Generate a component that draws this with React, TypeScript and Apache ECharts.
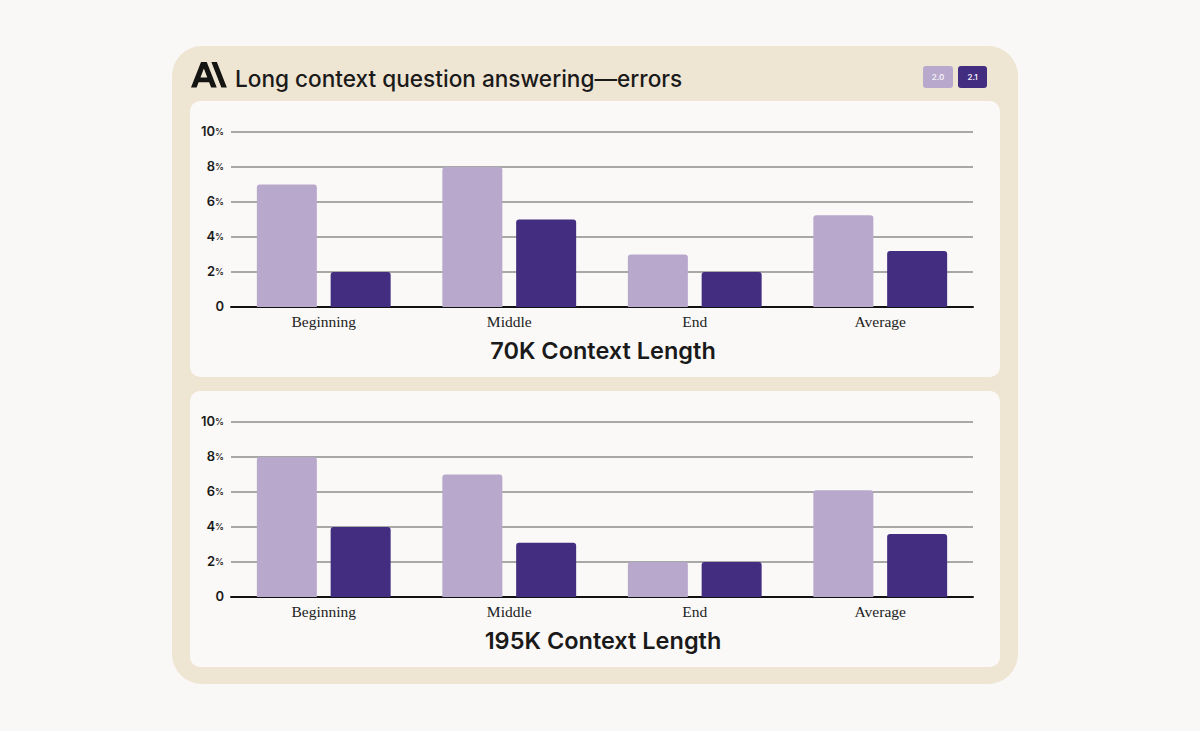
import React, { useEffect, useRef } from "react";
import * as echarts from "echarts";

const categories = ["Beginning", "Middle", "End", "Average"];
const seriesNames = ["2.0", "2.1"];
const errors70k_v20 = [7, 8, 3, 5.25];
const errors70k_v21 = [2, 5, 2, 3.2];
const errors195k_v20 = [8, 7, 2, 6.1];
const errors195k_v21 = [4, 3.1, 2, 3.6];
const yTicks = [0, 2, 4, 6, 8, 10];
const panelTitles = ["70K Context Length", "195K Context Length"];
const mainTitle = "Long context question answering\u2014errors";

const LIGHT = "#b8a8cc";
const DARK = "#422d80";
const LOGO_D =
  "M32.73 0h-6.945L38.45 32h6.945L32.73 0ZM12.665 0 0 32h7.082l2.59-6.72h13.25l2.59 6.72h7.082L19.929 0h-7.264Zm-.702 19.337 4.334-11.246 4.334 11.246h-8.668Z";

let registered = false;

export default function App() {
  const ref = useRef<HTMLDivElement>(null);
  useEffect(() => {
    if (!ref.current) return;
    if (!registered) {
      echarts.graphic.registerShape("logo", echarts.graphic.extendPath(LOGO_D, {}));
      registered = true;
    }
    const chart = echarts.init(ref.current, null, { renderer: "svg" });
    const grids = [
      { left: 231, right: 227, top: 132, height: 175 },
      { left: 231, right: 227, top: 422, height: 175 },
    ];
    const yAxis = grids.map((_, i) => ({
      type: "value",
      gridIndex: i,
      min: yTicks[0],
      max: yTicks[yTicks.length - 1],
      interval: 2,
      axisLine: { show: false },
      axisTick: { show: false },
      splitLine: { show: true, lineStyle: { color: "#8c8c8c", width: 1.5 } },
      axisLabel: {
        margin: 7,
        formatter: (v: number) => (v === 0 ? "{n|0}" : `{n|${v}}{p|%}`),
        rich: {
          n: { fontFamily: "Inter", fontWeight: 600, fontSize: 13, color: "#1a1a1a", padding: [0, 0, 3, 0] },
          p: { fontFamily: "Inter", fontWeight: 500, fontSize: 9, color: "#1a1a1a", padding: [0, 0, 1, 0] },
        },
      },
    }));
    const xAxis = grids.map((_, i) => ({
      type: "category",
      gridIndex: i,
      data: categories,
      axisLine: { show: true, lineStyle: { color: "#111", width: 2 } },
      axisTick: { show: false },
      axisLabel: { margin: 6, fontFamily: "Liberation Serif", fontSize: 15.5, color: "#222" },
    }));
    const barBase = (name: string, data: number[], idx: number, color: string) => ({
      type: "bar",
      name,
      xAxisIndex: idx,
      yAxisIndex: idx,
      data,
      barWidth: 60,
      barGap: "23%",
      itemStyle: { color, borderRadius: [3, 3, 0, 0] },
      z: 3,
    });
    const series = [
      barBase(seriesNames[0], errors70k_v20, 0, LIGHT),
      barBase(seriesNames[1], errors70k_v21, 0, DARK),
      barBase(seriesNames[0], errors195k_v20, 1, LIGHT),
      barBase(seriesNames[1], errors195k_v21, 1, DARK),
    ];
    const subStyle = { fontFamily: "Inter", fontWeight: 600, fontSize: 23.5, color: "#1a1a1a" };
    chart.setOption({
      animation: false,
      backgroundColor: "#f9f8f6",
      title: [
        {
          text: mainTitle,
          left: 235,
          top: 67,
          padding: 0,
          textStyle: { fontFamily: "Inter", fontWeight: 500, fontSize: 22.6, color: "#1a1a1a" },
        },
        { text: panelTitles[0], left: 603, textAlign: "center", top: 338, padding: 0, textStyle: subStyle },
        { text: panelTitles[1], left: 603, textAlign: "center", top: 628, padding: 0, textStyle: subStyle },
      ],
      grid: grids,
      xAxis,
      yAxis,
      series,
      graphic: [
        { type: "rect", z: -10, shape: { x: 172, y: 46, width: 846, height: 638, r: 30 }, style: { fill: "#efe5d3" } },
        { type: "rect", z: -9, shape: { x: 190, y: 101, width: 810, height: 276, r: 10 }, style: { fill: "#faf9f7" } },
        { type: "rect", z: -9, shape: { x: 190, y: 391, width: 810, height: 276, r: 10 }, style: { fill: "#faf9f7" } },
        { type: "logo", x: 191, y: 62, scaleX: 0.79, scaleY: 0.8, style: { fill: "#141413" } },
        { type: "rect", shape: { x: 923, y: 66, width: 30, height: 22, r: 3 }, style: { fill: LIGHT } },
        { type: "rect", shape: { x: 958, y: 66, width: 29, height: 22, r: 3 }, style: { fill: DARK } },
        {
          type: "text",
          x: 938,
          y: 77,
          style: { text: seriesNames[0], fill: "#f4f0f8", font: "600 8px Inter", textAlign: "center", textVerticalAlign: "middle" },
        },
        {
          type: "text",
          x: 972.5,
          y: 77,
          style: { text: seriesNames[1], fill: "#f4f0f8", font: "600 8px Inter", textAlign: "center", textVerticalAlign: "middle" },
        },
      ],
    });
    return () => chart.dispose();
  }, []);
  return <div ref={ref} style={{ position: "fixed", left: 0, top: 0, width: 1200, height: 731 }} />;
}
